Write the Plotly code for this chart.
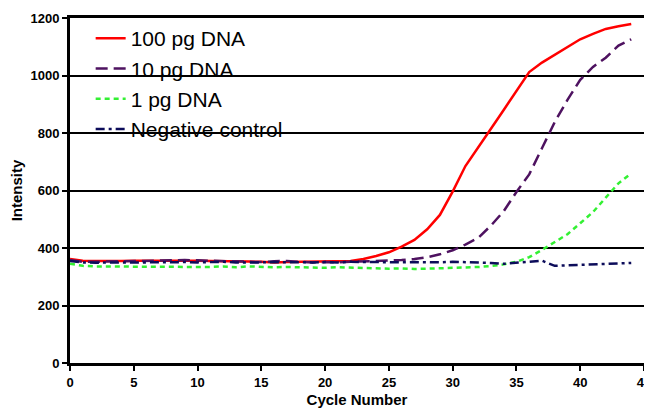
import plotly.graph_objects as go

cycles = list(range(0, 45))

dna_100pg = [362, 356, 355, 354, 355, 356, 355, 356, 356, 357,
             356, 355, 355, 354, 353, 352, 350, 351, 352, 351,
             352, 353, 355, 362, 372, 385, 405, 428, 465, 515,
             596, 685, 752, 815, 880, 948, 1012, 1045, 1072, 1100,
             1126, 1145, 1162, 1171, 1179]

dna_10pg = [358, 352, 352, 353, 355, 356, 356, 357, 357, 358,
            357, 356, 356, 355, 352, 351, 354, 355, 352, 350,
            351, 350, 352, 353, 354, 356, 358, 362, 368, 378,
            392, 412, 435, 478, 528, 595, 656, 747, 838, 915,
            985, 1030, 1062, 1104, 1126]

dna_1pg = [345, 338, 336, 337, 336, 335, 335, 334, 335, 334,
           333, 334, 336, 333, 336, 334, 333, 334, 333, 330,
           331, 333, 332, 330, 328, 328, 329, 327, 328, 329,
           331, 332, 334, 337, 343, 352, 368, 393, 420, 448,
           486, 525, 575, 625, 660]

negative = [355, 350, 349, 350, 351, 350, 350, 351, 352, 351,
            350, 351, 352, 350, 349, 350, 351, 350, 349, 350,
            351, 350, 352, 351, 350, 349, 350, 351, 350, 350,
            352, 351, 350, 348, 345, 348, 352, 356, 338, 340,
            342, 343, 345, 346, 348]

names = ["100 pg DNA", "10 pg DNA", "1 pg DNA", "Negative control"]
colors = ["#ff0000", "#4e1260", "#33f033", "#0c0c5a"]
dashes = ["solid", "12px,6px", "5px,4px", "9px,4px,3px,4px"]
series = [dna_100pg, dna_10pg, dna_1pg, negative]

fig = go.Figure()
for name, ys, col, dsh in zip(names, series, colors, dashes):
    fig.add_trace(go.Scatter(
        x=cycles, y=ys, mode="lines", name=name, legendgroup=name,
        line=dict(color=col, width=2.5, dash=dsh),
    ))

FAM = "Arial, Liberation Sans, sans-serif"
axis_font = dict(family=FAM, size=13, color="black", weight="bold")
title_font = dict(family=FAM, size=15, color="black", weight="bold")

# page body has an 8px default margin, so the figure is sized to fit the window
fig.update_layout(
    width=644, height=402,
    margin=dict(l=62, r=8, t=10, b=47),
    paper_bgcolor="white", plot_bgcolor="white",
    showlegend=True,
    legend=dict(
        x=0.036, y=1.0, xanchor="left", yanchor="top",
        bgcolor="rgba(0,0,0,0)", tracegroupgap=0,
        font=dict(family=FAM, size=21, color="black"),
    ),
    xaxis=dict(
        range=[0, 45], tickmode="array", tickvals=list(range(0, 46, 5)),
        showgrid=False, zeroline=False, automargin=False,
        showline=True, linecolor="black", linewidth=3, mirror=True,
        ticks="outside", ticklen=5, tickwidth=2, tickcolor="black",
        tickfont=axis_font, ticklabeloverflow="allow",
        title=dict(text="Cycle Number", font=title_font, standoff=6),
    ),
    yaxis=dict(
        range=[0, 1200], tickmode="array", tickvals=list(range(0, 1201, 200)),
        showgrid=True, gridcolor="black", gridwidth=1.5, zeroline=False,
        automargin=False,
        showline=True, linecolor="black", linewidth=3, mirror=True,
        ticks="outside", ticklen=5, tickwidth=2, tickcolor="black",
        tickfont=axis_font, ticklabeloverflow="allow",
        title=dict(text="Intensity", font=title_font, standoff=6),
    ),
)

fig.write_html("out.html")
